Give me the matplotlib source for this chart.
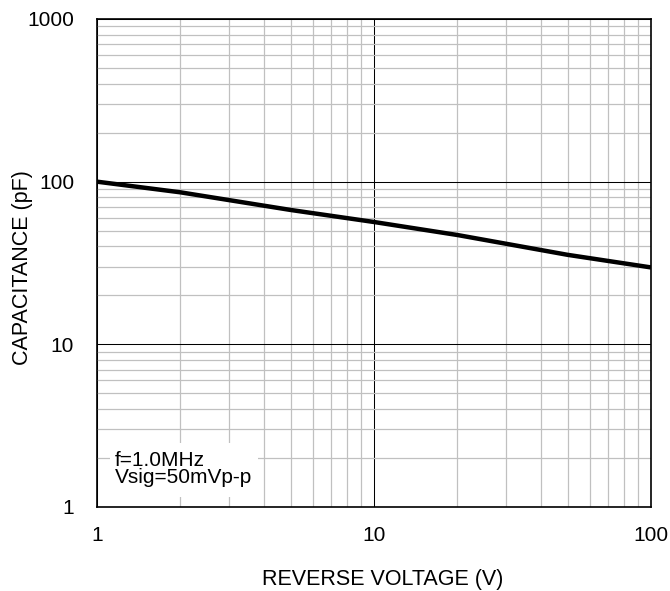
import numpy as np
import matplotlib.pyplot as plt
from matplotlib.ticker import FixedLocator, NullFormatter, LogLocator
from matplotlib.patches import Rectangle

# values
voltage = [1, 2, 5, 10, 20, 50, 100]
capacitance = [100, 86, 67, 56.5, 47, 35.5, 29.7]
x_ticks = [1, 10, 100]
y_ticks = [1, 10, 100, 1000]
note = "f=1.0MHz\nVsig=50mVp-p"

plt.rcParams['font.family'] = ['Liberation Sans', 'DejaVu Sans']

fig = plt.figure(figsize=(6.7, 5.91), dpi=100)
ax = fig.add_axes([97/670, 1-507/591, (651-97)/670, (507-19)/591])

ax.set_xscale('log')
ax.set_yscale('log')
ax.set_xlim(1, 100)
ax.set_ylim(1, 1000)

ax.xaxis.set_major_locator(FixedLocator(x_ticks))
ax.yaxis.set_major_locator(FixedLocator(y_ticks))
ax.set_xticklabels([str(v) for v in x_ticks])
ax.set_yticklabels([str(v) for v in y_ticks])
ax.xaxis.set_minor_locator(LogLocator(base=10, subs=np.arange(2, 10)))
ax.yaxis.set_minor_locator(LogLocator(base=10, subs=np.arange(2, 10)))
ax.xaxis.set_minor_formatter(NullFormatter())
ax.yaxis.set_minor_formatter(NullFormatter())

ax.grid(which='minor', color='#c0c0c0', linewidth=0.9, zorder=1)
ax.grid(which='major', color='black', linewidth=0.75, zorder=2)
ax.set_axisbelow(True)

ax.tick_params(which='both', length=0, labelsize=15)
ax.tick_params(axis='x', pad=14)
ax.tick_params(axis='y', pad=16.5)

for s in ax.spines.values():
    s.set_linewidth(1.2)
    s.set_color('black')

ax.plot(voltage, capacitance, color='black', linewidth=3.2, zorder=5,
        solid_capstyle='butt')

# white box behind the note
ax.add_patch(Rectangle((0.0235, 0.0205), 0.267, 0.1107, transform=ax.transAxes,
                       facecolor='white', edgecolor='none', zorder=3))
ax.text(0.0325, 0.078, note, transform=ax.transAxes, fontsize=15, va='center',
        ha='left', linespacing=0.88, zorder=4)

ax.set_xlabel('REVERSE VOLTAGE (V)', fontsize=15.5)
ax.set_ylabel('CAPACITANCE (pF)', fontsize=15.5)
ax.xaxis.set_label_coords(0.516, -0.127)
ax.yaxis.set_label_coords(-0.1155, 0.49)

fig.savefig('out.png', dpi=100)
